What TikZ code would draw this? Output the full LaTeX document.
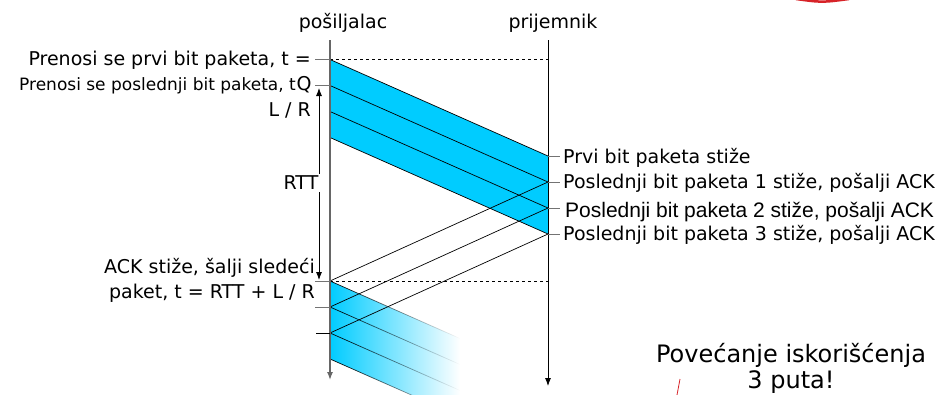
\documentclass[tikz,border=0pt]{standalone}
\usepackage{fontspec}
\setmainfont{DejaVu Sans}
\newfontfamily\arialfont{Liberation Sans}
\usetikzlibrary{arrows.meta,fadings}
\definecolor{packet}{RGB}{0,204,255}
\definecolor{marker}{RGB}{215,35,40}

\begin{document}
\begin{tikzpicture}[x=1pt, y=-1pt, >={Latex[length=8pt,width=6pt]},
  every node/.style={inner sep=0pt, font=\fontsize{19}{22}\selectfont},
  tick/.style={black!55, line width=1pt},
  msg/.style={line width=0.7pt}]
  \useasboundingbox (0,0) rectangle (941,394);
  \node[anchor=base] (snd) at (343,28) {pošiljalac};
  \node[anchor=base] (rcv) at (553,28) {prijemnik};
  \coordinate (stop) at (330,40);
  \coordinate (send) at (330,380);
  \coordinate (rtop) at (548,40);
  \coordinate (rend) at (548,386);
  \coordinate (s0) at (330,59.5);
  \coordinate (s1) at (330,85.5);
  \coordinate (s2) at (330,111.5);
  \coordinate (s3) at (330,137.5);
  \coordinate (r0) at (548,156);
  \coordinate (r1) at (548,182);
  \coordinate (r2) at (548,208);
  \coordinate (r3) at (548,234);
  \coordinate (k0) at (548,59.5);
  \coordinate (k1) at (548,281);
  \coordinate (a1) at (330,281);
  \coordinate (a2) at (330,307);
  \coordinate (a3) at (330,333);
  \coordinate (a4) at (330,359);
  \coordinate (b1) at (460,338.5);
  \coordinate (b2) at (460,364.5);
  \coordinate (b3) at (460,390.5);
  \coordinate (b4) at (460,416.5);
  \fill[packet] (s0) -- (r0) -- (r3) -- (s3) -- cycle;
  \shade[left color=packet, right color=white] (a1) -- (b1) -- (b4) -- (a4) -- cycle;
  \draw[msg] (s0) -- (r0);
  \draw[msg] (s1) -- (r1);
  \draw[msg] (s2) -- (r2);
  \draw[msg] (s3) -- (r3);
  \draw[msg] (r1) -- (a1);
  \draw[msg] (r2) -- (a2);
  \draw[msg] (r3) -- (a3);
  \draw[msg, path fading=east] (a1) -- (b1);
  \draw[msg, path fading=east] (a2) -- (b2);
  \draw[msg, path fading=east] (a3) -- (b3);
  \draw[msg, path fading=east] (a4) -- (b4);
  \draw[msg, dashed] (s0) -- (k0);
  \draw[msg, dashed] (a1) -- (k1);
  \draw[->, black!60, line width=1.3pt] (stop) -- (send);
  \draw[->, line width=0.8pt] (rtop) -- (rend);
  \draw[tick] (s0) -- ++(-15,0);
  \draw[tick] (s1) -- ++(-15,0);
  \draw[tick] (a1) -- ++(-15,0);
  \draw[tick] (a2) -- ++(-15,0);
  \draw[tick, black] (a3) -- ++(-14,0);
  \draw[tick] (r0) -- ++(12,0);
  \draw[tick] (r1) -- ++(12,0);
  \draw[tick] (r2) -- ++(12,0);
  \draw[tick] (r3) -- ++(12,0);
  \draw[<->, line width=0.8pt] (319,88) -- (319,280);
  \node[fill=white, inner sep=2pt] (rtt) at (301,183) {RTT};
  \node[anchor=base east] (first) at (311,65) {Prenosi se prvi bit paketa, t =};
  \node[anchor=base east, font=\fontsize{17}{20}\selectfont] (last) at (296,90) {Prenosi se poslednji bit paketa, t};
  \node[anchor=base] (zero) at (304,90) {Q};
  \node[anchor=base east] (lr) at (311,116) {L / R};
  \node[anchor=base east] (ackin) at (315,273) {ACK stiže, šalji sledeći};
  \node[anchor=base east] (next) at (315,298) {paket, t = RTT + L / R};
  \node[anchor=base west] (arr0) at (563,163) {Prvi bit paketa stiže};
  \node[anchor=base west] (arr1) at (563,188) {Poslednji bit paketa 1 stiže, pošalji ACK};
  \node[anchor=base west, font=\arialfont\fontsize{21}{24}\selectfont] (arr2) at (565,217) {Poslednji bit paketa 2 stiže, pošalji ACK};
  \node[anchor=base west] (arr3) at (563,240) {Poslednji bit paketa 3 stiže, pošalji ACK};
  \node[anchor=base, font=\fontsize{24}{28}\selectfont] (util) at (791,362) {Povećanje iskorišćenja};
  \node[anchor=base, font=\fontsize{24}{28}\selectfont] (times) at (791,388) {3 puta!};
  \coordinate (m0) at (680,379);
  \coordinate (m1) at (677,395);
  \coordinate (m2) at (796,-1);
  \coordinate (m3) at (849,-1);
  \draw[marker, line width=0.8pt] (m0) -- (m1);
  \draw[marker, line width=2.5pt] (m2) .. controls (822,2.5) .. (m3);
\end{tikzpicture}
\end{document}
